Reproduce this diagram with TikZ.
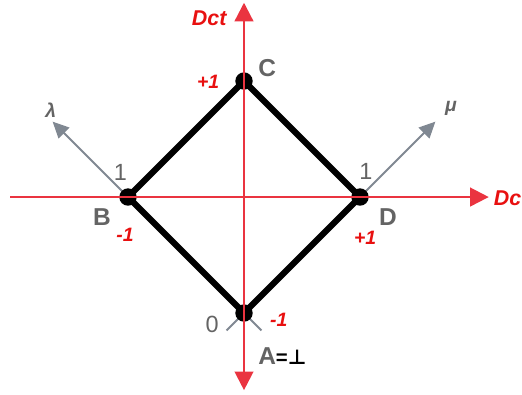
\documentclass[tikz,border=0pt]{standalone}
\usepackage{fontspec}
\setmainfont{Liberation Sans}
\newfontfamily\symfont{DejaVu Sans}
\usetikzlibrary{arrows.meta}
\definecolor{axisred}{RGB}{234,52,64}
\definecolor{labelred}{RGB}{232,16,16}
\definecolor{axisgray}{RGB}{128,136,146}
\definecolor{labelgray}{RGB}{100,100,100}
\tikzset{
  axisline/.style={draw=axisred,line width=1.1pt},
  diagline/.style={draw=axisgray,line width=1pt,-{Triangle[length=0.28cm,width=0.26cm]}},
  edge/.style={draw=black,line width=3pt,line join=round},
  corner/.style={circle,fill=black,inner sep=0pt,minimum size=0.3cm},
  cornerlbl/.style={text=labelgray,font=\fontsize{12}{14}\selectfont\bfseries},
  unitlbl/.style={text=labelgray,font=\fontsize{11.5}{13}\selectfont},
  signlbl/.style={text=labelred,font=\fontsize{9.5}{11}\selectfont\bfseries\itshape},
  axislbl/.style={text=labelred,font=\fontsize{10.5}{12}\selectfont\bfseries\itshape},
  greeklbl/.style={text=labelgray,font=\fontsize{9.5}{11}\selectfont\bfseries\itshape}
}
\begin{document}
\begin{tikzpicture}
  \useasboundingbox (-4.207,-3.397) rectangle (4.793,3.397);
  \coordinate (left) at (-4.03,0);
  \coordinate (right) at (4.22,0);
  \coordinate (top) at (0,3.35);
  \coordinate (bottom) at (0,-3.33);
  \coordinate (lamstart) at (0.3,-2.3);
  \coordinate (lamtip) at (-3.3,1.3);
  \coordinate (mustart) at (-0.3,-2.3);
  \coordinate (mutip) at (3.3,1.3);

  \draw[diagline] (lamstart) -- (lamtip);
  \draw[diagline] (mustart) -- (mutip);

  \node[corner] (A) at (0,-2) {};
  \node[corner] (B) at (-2,0) {};
  \node[corner] (C) at (0,2) {};
  \node[corner] (D) at (2,0) {};
  \draw[edge] (A.center) -- (B.center) -- (C.center) -- (D.center) -- cycle;

  \draw[axisline,-{Triangle[length=0.32cm,width=0.32cm]}] (left) -- (right);
  \draw[axisline,{Triangle[length=0.32cm,width=0.32cm]}-{Triangle[length=0.32cm,width=0.32cm]}] (top) -- (bottom);

  \node[axislbl] (dctlbl) at (-0.6,3.08) {Dct};
  \node[axislbl,anchor=west,inner sep=0pt] (dclbl) at (4.3,-0.02) {Dc};
  \node[greeklbl] (lamlbl) at (-3.33,1.5) {λ};
  \node[greeklbl] (mulbl) at (3.57,1.52) {μ};

  \node[cornerlbl] (Clbl) at (0.4,2.22) {C};
  \node[signlbl] (Csign) at (-0.62,1.98) {+1};
  \node[unitlbl] (Bunit) at (-2.13,0.42) {1};
  \node[cornerlbl] (Blbl) at (-2.45,-0.34) {B};
  \node[signlbl] (Bsign) at (-2.05,-0.66) {-1};
  \node[unitlbl] (Dunit) at (2.1,0.44) {1};
  \node[cornerlbl] (Dlbl) at (2.48,-0.34) {D};
  \node[signlbl] (Dsign) at (2.09,-0.71) {+1};
  \node[unitlbl] (Aunit) at (-0.55,-2.2) {0};
  \node[signlbl] (Asign) at (0.6,-2.12) {-1};
  \node[cornerlbl,anchor=west,inner sep=0pt] (Albl) at (0.24,-2.74) {A\textcolor{black}{\fontsize{10}{12}\selectfont=\symfont\bfseries ⊥}};
\end{tikzpicture}
\end{document}
